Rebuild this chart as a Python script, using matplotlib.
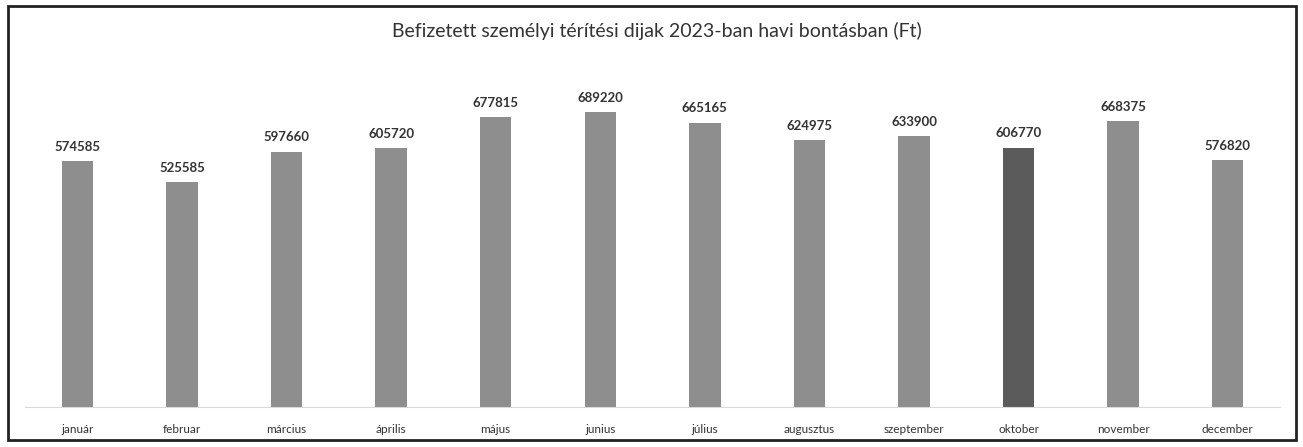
import matplotlib
matplotlib.use('Agg')
import matplotlib.pyplot as plt
from matplotlib.patches import Rectangle

# ── DATA ──
months = ['január', 'februar', 'március', 'április', 'május', 'junius',
          'július', 'augusztus', 'szeptember', 'oktober', 'november', 'december']
values = [574585, 525585, 597660, 605720, 677815, 689220,
          665165, 624975, 633900, 606770, 668375, 576820]
highlight = 'oktober'

TITLE = 'Befizetett személyi térítési dijak 2023-ban havi bontásban (Ft)'

plt.rcParams['font.family'] = ['Lato', 'DejaVu Sans']

fig = plt.figure(figsize=(13.03, 4.47), dpi=100)
ax = fig.add_axes([0.0192, 0.0895, 0.9632, 0.765])

colors = ['#5b5b5b' if m == highlight else '#8e8e8e' for m in months]
x = list(range(len(months)))
bars = ax.bar(x, values, width=0.30, color=colors)

for b, v in zip(bars, values):
    ax.annotate(f'{v}', (b.get_x() + b.get_width() / 2, v),
                xytext=(0, 6), textcoords='offset points',
                ha='center', va='bottom', fontsize=9.5,
                fontweight='bold', color='#333333')

ax.set_xlim(-0.5, len(months) - 0.5)
ax.set_ylim(0, 800000)
ax.set_xticks(x)
ax.set_xticklabels(months, fontsize=8.5, color='#333333')
ax.tick_params(axis='x', length=0, pad=12)
ax.set_yticks([])
for s in ['top', 'left', 'right']:
    ax.spines[s].set_visible(False)
ax.spines['bottom'].set_color('#d9d9d9')

fig.text(0.504, 0.93, TITLE, ha='center', va='center',
         fontsize=14, color='#333333')

# scanned frame
fig.patches.append(Rectangle((0.006, 0.015), 0.989, 0.972,
                             transform=fig.transFigure, fill=False,
                             edgecolor='#222222', linewidth=2))

fig.savefig('out.png', dpi=100)
